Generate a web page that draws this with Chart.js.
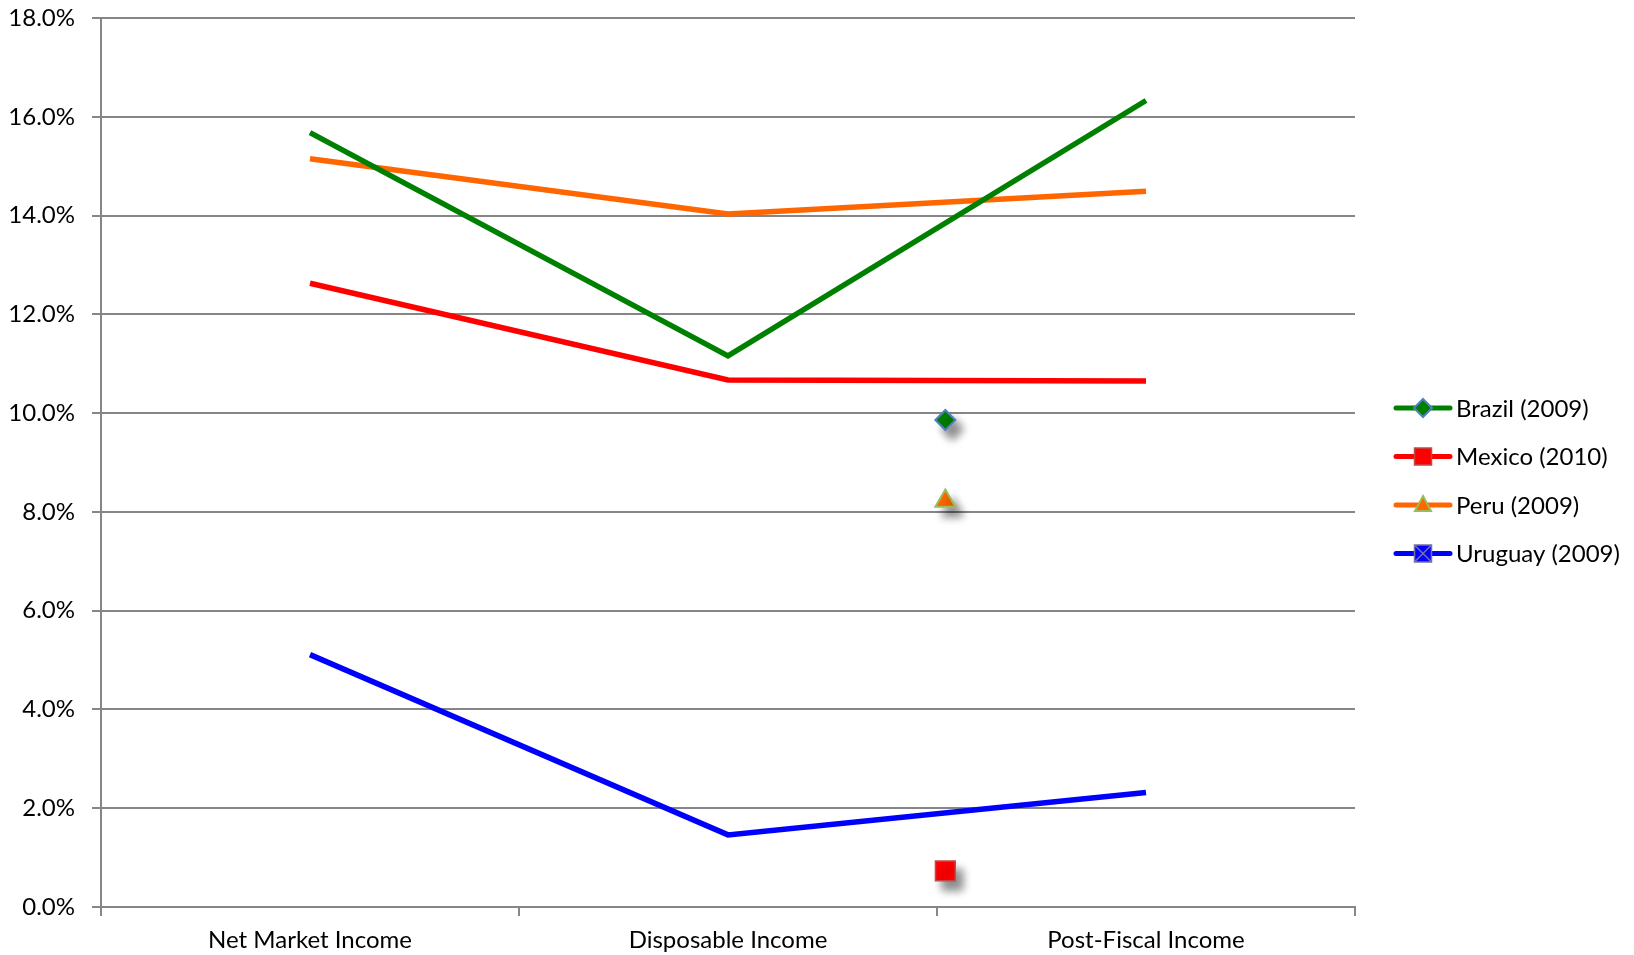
<!DOCTYPE html>
<html>
<head>
<meta charset="utf-8">
<title>Income concepts by country</title>
<script src="https://cdn.jsdelivr.net/npm/chart.js@4.4.1/dist/chart.umd.min.js"></script>
<style>
  html, body { margin: 0; padding: 0; background: #fff; }
  #wrap { width: 1634px; height: 955px; position: relative; }
</style>
</head>
<body>
<div id="wrap"><canvas id="chart"></canvas></div>
<script>
const categories = ["Net Market Income", "Disposable Income", "Post-Fiscal Income"];
const seriesNames = ["Brazil (2009)", "Mexico (2010)", "Peru (2009)", "Uruguay (2009)"];
const brazil = [15.68, 11.16, 16.33];
const mexico = [12.63, 10.67, 10.65];
const peru = [15.15, 14.03, 14.49];
const uruguay = [5.11, 1.46, 2.32];
const yTicks = [0, 2, 4, 6, 8, 10, 12, 14, 16, 18];

// single points that sit just past the second category boundary
const loosePointX = 2.02;
const brazilPoint = 9.86;
const peruPoint = 8.22;
const mexicoPoint = 0.73;

const FONT = "Lato, 'Open Sans', sans-serif";
const FONT_SIZE = 24;
const GRID = "#868686";

const colors = {
    brazil: "#008000",
    mexico: "#ff0000",
    peru: "#ff6600",
    uruguay: "#0000ff"
};

function toPoints(values) {
    return values.map((v, i) => ({ x: i + 0.5, y: v }));
}

function lineSet(label, values, color) {
    return {
        label: label,
        data: toPoints(values),
        borderColor: color,
        backgroundColor: color,
        borderWidth: 5.5,
        pointRadius: 0,
        pointHoverRadius: 0,
        tension: 0,
        fill: false
    };
}

function pointSet(label, value, style, radius, fillColor, edgeColor, edgeWidth) {
    return {
        label: label,
        data: [{ x: loosePointX, y: value }],
        showLine: false,
        pointStyle: style,
        pointRadius: radius,
        pointHoverRadius: radius,
        pointBackgroundColor: fillColor,
        pointBorderColor: edgeColor,
        pointBorderWidth: edgeWidth,
        shadow: true
    };
}

// drop shadow behind the loose markers
const markerShadow = {
    id: "markerShadow",
    beforeDatasetDraw(chart, args) {
        if (!chart.data.datasets[args.index].shadow) return;
        const ctx = chart.ctx;
        ctx.save();
        ctx.shadowColor = "rgba(0,0,0,0.45)";
        ctx.shadowBlur = 8;
        ctx.shadowOffsetX = 7;
        ctx.shadowOffsetY = 9;
    },
    afterDatasetDraw(chart, args) {
        if (!chart.data.datasets[args.index].shadow) return;
        chart.ctx.restore();
    }
};

function drawLegendMarker(ctx, kind, x, y) {
    ctx.save();
    ctx.lineWidth = 2;
    if (kind === 0) {
        const r = 9;
        ctx.beginPath();
        ctx.moveTo(x, y - r);
        ctx.lineTo(x + r, y);
        ctx.lineTo(x, y + r);
        ctx.lineTo(x - r, y);
        ctx.closePath();
        ctx.fillStyle = colors.brazil;
        ctx.fill();
        ctx.strokeStyle = "#4f81bd";
        ctx.stroke();
    } else if (kind === 1) {
        ctx.fillStyle = colors.mexico;
        ctx.fillRect(x - 8.5, y - 8.5, 17, 17);
        ctx.strokeStyle = "#be4b48";
        ctx.lineWidth = 1.5;
        ctx.strokeRect(x - 8.5, y - 8.5, 17, 17);
    } else if (kind === 2) {
        ctx.beginPath();
        ctx.moveTo(x, y - 9);
        ctx.lineTo(x + 8, y + 6);
        ctx.lineTo(x - 8, y + 6);
        ctx.closePath();
        ctx.fillStyle = colors.peru;
        ctx.fill();
        ctx.strokeStyle = "#9bbb59";
        ctx.stroke();
    } else {
        ctx.fillStyle = colors.uruguay;
        ctx.fillRect(x - 8.5, y - 8.5, 17, 17);
        ctx.strokeStyle = "#7a6fa8";
        ctx.lineWidth = 1.5;
        ctx.strokeRect(x - 8.5, y - 8.5, 17, 17);
        ctx.beginPath();
        ctx.moveTo(x - 8, y - 8);
        ctx.lineTo(x + 8, y + 8);
        ctx.moveTo(x + 8, y - 8);
        ctx.lineTo(x - 8, y + 8);
        ctx.stroke();
    }
    ctx.restore();
}

// legend with a line sample and marker, to the right of the plot
const sideLegend = {
    id: "sideLegend",
    afterDraw(chart) {
        const ctx = chart.ctx;
        const left = chart.chartArea.right + 41;
        const lineColors = [colors.brazil, colors.mexico, colors.peru, colors.uruguay];
        ctx.save();
        ctx.font = FONT_SIZE + "px " + FONT;
        ctx.textBaseline = "middle";
        ctx.textAlign = "left";
        seriesNames.forEach((name, i) => {
            const y = 408 + i * 48.5;
            ctx.strokeStyle = lineColors[i];
            ctx.lineWidth = 5;
            ctx.lineCap = "round";
            ctx.beginPath();
            ctx.moveTo(left, y);
            ctx.lineTo(left + 54, y);
            ctx.stroke();
            drawLegendMarker(ctx, i, left + 27, y);
            ctx.fillStyle = "#000";
            ctx.fillText(name, left + 60, y + 1);
        });
        ctx.restore();
    }
};

const chart = new Chart(document.getElementById("chart"), {
    type: "line",
    data: {
        datasets: [
            lineSet(seriesNames[0], brazil, colors.brazil),
            lineSet(seriesNames[1], mexico, colors.mexico),
            lineSet(seriesNames[2], peru, colors.peru),
            lineSet(seriesNames[3], uruguay, colors.uruguay),
            pointSet(seriesNames[0], brazilPoint, "rectRot", 10, colors.brazil, "#4f81bd", 2),
            pointSet(seriesNames[1], mexicoPoint, "rect", 14, colors.mexico, "#be4b48", 1.5),
            pointSet(seriesNames[2], peruPoint, "triangle", 11.5, colors.peru, "#9bbb59", 2)
        ]
    },
    options: {
        responsive: true,
        maintainAspectRatio: false,
        animation: false,
        layout: { padding: { left: 0, right: 279, top: 18, bottom: 0 } },
        plugins: {
            legend: { display: false },
            tooltip: { enabled: false }
        },
        scales: {
            x: {
                type: "linear",
                min: 0,
                max: 3,
                afterBuildTicks(scale) {
                    scale.ticks = [0, 0.5, 1, 1.5, 2, 2.5, 3].map(v => ({ value: v }));
                },
                afterFit(scale) {
                    scale.height = 48;
                    scale.paddingLeft = 0;
                    scale.paddingRight = 0;
                },
                ticks: {
                    autoSkip: false,
                    maxRotation: 0,
                    padding: 10,
                    color: "#000",
                    font: { family: FONT, size: FONT_SIZE },
                    callback: v => Number.isInteger(v) ? "" : categories[Math.floor(v)]
                },
                grid: {
                    drawOnChartArea: false,
                    tickLength: 9,
                    lineWidth: 2,
                    color: c => Number.isInteger(c.tick.value) ? GRID : "rgba(0,0,0,0)"
                },
                border: { color: GRID, width: 2 }
            },
            y: {
                min: 0,
                max: 18,
                afterBuildTicks(scale) {
                    scale.ticks = yTicks.map(v => ({ value: v }));
                },
                afterFit(scale) {
                    scale.width = 101;
                    scale.paddingTop = 0;
                    scale.paddingBottom = 0;
                },
                ticks: {
                    padding: 17,
                    color: "#000",
                    font: { family: FONT, size: FONT_SIZE },
                    callback: v => v.toFixed(1) + "%"
                },
                grid: { color: GRID, lineWidth: 2, tickLength: 9 },
                border: { color: GRID, width: 2 }
            }
        }
    },
    plugins: [markerShadow, sideLegend]
});
</script>
</body>
</html>
